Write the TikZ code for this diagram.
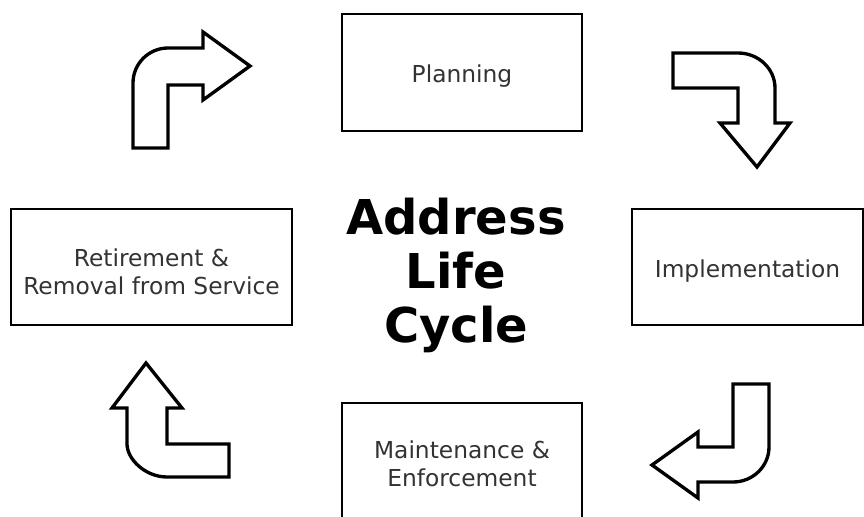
\documentclass[tikz,border=0pt]{standalone}
\usepackage{fontspec}
\setmainfont{DejaVu Sans}
\begin{document}
\begin{tikzpicture}[x=0.75pt,y=-0.75pt,
  stagebox/.style={draw=black, line width=1.2pt, fill=white, inner sep=0pt},
  stagetext/.style={inner sep=0pt, align=center, text=black!80,
    font=\fontsize{17.5}{21}\selectfont},
  bentarrow/.style={draw=black, line width=2.5pt, fill=white, line join=miter},
  titletext/.style={align=center, inner sep=0pt, text=black,
    font=\fontsize{36}{40.5}\selectfont\bfseries}]
\useasboundingbox (0,0) rectangle (864,517);

% stage boxes
\node[stagebox, minimum width=180pt, minimum height=87.75pt] (plan) at (462,72.5) {};
\node[stagebox, minimum width=173.25pt, minimum height=87pt] (impl) at (747.5,267) {};
\node[stagebox, minimum width=180pt, minimum height=87.75pt] (maint) at (462,461.5) {};
\node[stagebox, minimum width=210.75pt, minimum height=87pt] (retire) at (151.5,267) {};

% stage labels, set a little below each box centre
\node[stagetext] (plan-t) at ([yshift=-3pt]plan.center) {Planning};
\node[stagetext] (impl-t) at ([yshift=-3pt]impl.center) {Implementation};
\node[stagetext] (maint-t) at ([yshift=-1.5pt]maint.center) {Maintenance \&\\Enforcement};
\node[stagetext] (retire-t) at ([yshift=-3.5pt]retire.center) {Retirement \&\\Removal from Service};

% centre title
\node[titletext] (title) at (456,275) {Address\\Life\\Cycle};

% bent block arrows, clockwise from the upper left
\draw[bentarrow] (133,148) -- (168,148) -- (168,85) -- (203,85) -- (203,100)
  -- (250,66) -- (203,32) -- (203,48) -- (168,48)
  .. controls (148.7,48) and (133,63.7) .. (133,83) -- cycle;

\draw[bentarrow] (673,53) -- (738,53)
  .. controls (758.4,53) and (775,68.7) .. (775,88) -- (775,123) -- (790,123)
  -- (757,167) -- (720,123) -- (738,123) -- (738,88) -- (673,88) -- cycle;

\draw[bentarrow] (733,384) -- (769,384) -- (769,447)
  .. controls (769,466.3) and (752.9,482) .. (733,482) -- (698,482) -- (698,498)
  -- (652,465) -- (698,432) -- (698,447) -- (733,447) -- cycle;

\draw[bentarrow] (146,363) -- (182,408) -- (167,408) -- (167,444) -- (229,444)
  -- (229,477) -- (167,477) .. controls (144.9,477) and (127,458.8) .. (127,444)
  -- (127,408) -- (112,408) -- cycle;
\end{tikzpicture}
\end{document}
